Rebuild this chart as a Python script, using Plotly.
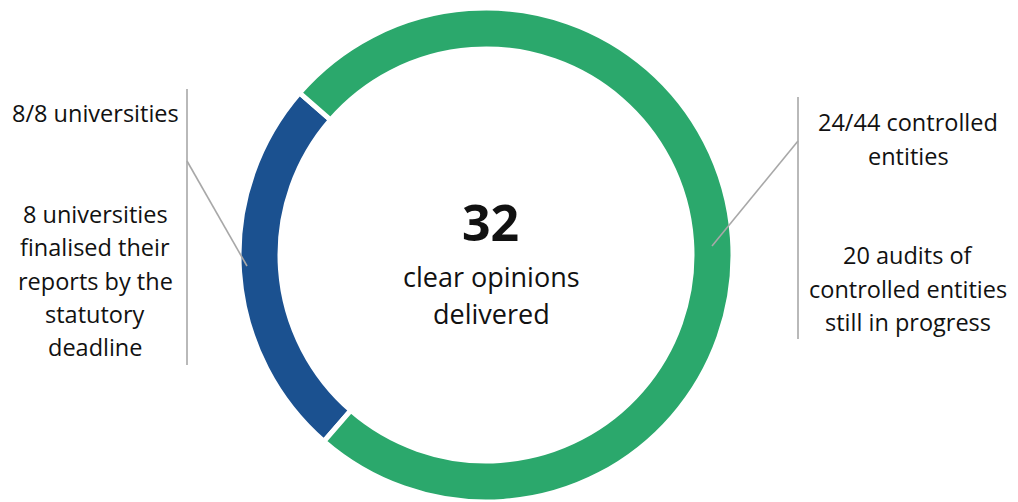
import plotly.graph_objects as go

# ---- data ----
labels = ["Universities", "Controlled entities"]
values = [8, 24]
colors = ["#1B5190", "#2BA86C"]

center_big = "32"
center_lines = ["clear opinions", "delivered"]
left_top = ["8/8 universities"]
left_bottom = ["8 universities", "finalised their", "reports by the", "statutory", "deadline"]
right_top = ["24/44 controlled", "entities"]
right_bottom = ["20 audits of", "controlled entities", "still in progress"]

# page is shown with the browser's default 8px body margin
OFF = 8
W, H = 1018 - OFF, 502 - OFF
FONT = "Open Sans"
TXT = "#111111"
GREY = "#A8A8A8"


def px(x):
    return (x - OFF) / W


def py(y):
    return 1 - (y - OFF) / H


# donut geometry (page pixels)
CX, R = 486, 247

fig = go.Figure()
fig.add_trace(go.Pie(
    labels=labels, values=values, sort=False,
    direction="counterclockwise", rotation=-139,
    hole=0.834,
    marker=dict(colors=colors, line=dict(color="white", width=5)),
    textinfo="none", hoverinfo="label+value",
    domain=dict(x=[px(CX - R), px(CX + R)], y=[0, 1]),
    showlegend=False,
))

ann = []


def block(lines, cx, y0, step, size, bold=False):
    for i, t in enumerate(lines):
        ann.append(dict(
            text=f"<b>{t}</b>" if bold else t,
            x=px(cx), y=py(y0 + i * step), xref="paper", yref="paper",
            xanchor="center", yanchor="middle", showarrow=False,
            font=dict(family=FONT, size=size, color=TXT),
        ))


block([center_big], 490, 222, 0, 50, bold=True)
block(center_lines, 491, 276, 37, 27)
block(left_top, 95, 113, 0, 23.5)
block(left_bottom, 95, 214, 33.3, 23.5)
block(right_top, 908, 122, 33.5, 23.5)
block(right_bottom, 908, 255, 33.5, 23.5)

shapes = []


def seg(x0, y0, x1, y1):
    shapes.append(dict(type="line", xref="paper", yref="paper",
                       x0=px(x0), y0=py(y0), x1=px(x1), y1=py(y1),
                       line=dict(color=GREY, width=1.6)))


seg(187, 89, 187, 365)
seg(187, 161, 247, 266)
seg(798, 97, 798, 339)
seg(798, 141, 712, 246)

fig.update_layout(
    width=W, height=H, autosize=False,
    margin=dict(l=0, r=0, t=0, b=0),
    paper_bgcolor="white", plot_bgcolor="white",
    annotations=ann, shapes=shapes,
)

fig.write_html("out.html")
